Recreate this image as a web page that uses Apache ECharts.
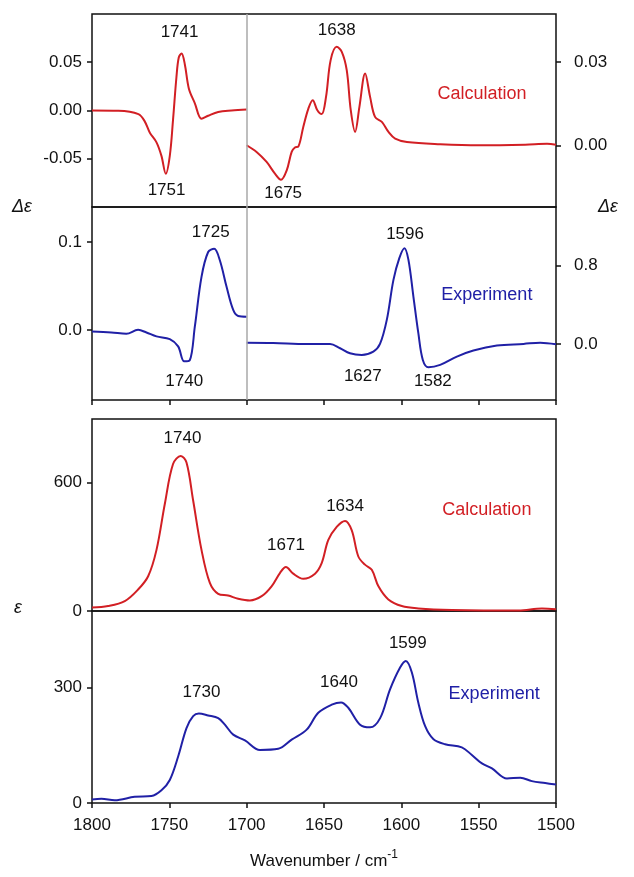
<!DOCTYPE html>
<html>
<head>
<meta charset="utf-8">
<script src="https://cdn.jsdelivr.net/npm/echarts@6/dist/echarts.min.js"></script>
<style>
  html, body { margin: 0; padding: 0; background: #fff; }
  #main { width: 634px; height: 877px; }
</style>
</head>
<body>
<div id="main"></div>
<script>
// VCD, calculation, 1800-1700 half (left axis)
const wnVcdCalcL = [1800, 1783, 1770, 1766, 1762.6, 1758.3, 1755.1, 1752.3, 1749.7, 1747.6, 1745.4, 1743.9, 1742.1, 1740, 1737.4, 1733.5, 1729.2, 1724.9, 1718.4, 1709.8, 1700]
const vcdCalcL = [0, -0.0003, -0.0037, -0.011, -0.023, -0.033, -0.047, -0.0656, -0.047, -0.0095, 0.0347, 0.055, 0.059, 0.048, 0.0229, 0.0075, -0.0085, -0.0054, -0.0015, 0, 0.001]
// VCD, calculation, 1700-1500 half (right axis)
const wnVcdCalcR = [1700, 1693.6, 1687.1, 1681.7, 1677.8, 1674.1, 1670.9, 1668.8, 1666.6, 1663.4, 1660.1, 1657.3, 1654.3, 1651.5, 1648.7, 1645.7, 1641.8, 1638.5, 1635.3, 1632.7, 1629.9, 1627.1, 1623.4, 1620.2, 1617, 1612.6, 1608.3, 1604, 1596.4, 1574.9, 1550, 1520, 1505.8, 1500]
const vcdCalcR = [0, -0.0024, -0.006, -0.0102, -0.0124, -0.009, -0.0024, -0.0008, -0.0005, 0.0066, 0.0132, 0.0162, 0.0126, 0.0112, 0.0174, 0.0306, 0.0354, 0.0336, 0.027, 0.0126, 0.0048, 0.0138, 0.0258, 0.0174, 0.0102, 0.0084, 0.0048, 0.0024, 0.0012, 0.0004, 0, 0.0002, 0.0005, 0.0002]
// VCD, experiment
const wnVcdExpL = [1800, 1787.5, 1777.8, 1770.2, 1764.8, 1758.3, 1749.7, 1744.3, 1740.4, 1736.8, 1733.5, 1729.2, 1724.9, 1721, 1717.3, 1713, 1708.7, 1705.5, 1700]
const vcdExpL = [-0.002, -0.003, -0.0045, 0, -0.003, -0.0075, -0.0106, -0.0189, -0.0359, -0.0347, 0.0038, 0.0604, 0.0887, 0.0925, 0.079, 0.049, 0.0226, 0.0158, 0.015]
const wnVcdExpR = [1700, 1682.8, 1661.2, 1646.1, 1639.6, 1633.2, 1625.6, 1618.1, 1613.8, 1609.4, 1605.1, 1601.3, 1598, 1595.4, 1592.2, 1589, 1586.1, 1582.5, 1574.9, 1564.1, 1553.4, 1538.2, 1521, 1510.2, 1500]
const vcdExpR = [0.013, 0.01, 0, 0, -0.044, -0.096, -0.113, -0.079, 0, 0.246, 0.656, 0.879, 0.98, 0.86, 0.485, 0.11, -0.164, -0.239, -0.215, -0.13, -0.068, -0.017, 0, 0.013, -0.003]
// IR, calculation
const wnIrCalc = [1800, 1789.6, 1778.8, 1770.2, 1763.7, 1758.3, 1752.9, 1747.6, 1742.6, 1738.9, 1734.6, 1729.2, 1723.8, 1718.4, 1712, 1705.5, 1697.9, 1690.3, 1683.9, 1678.5, 1674.6, 1669.9, 1663.4, 1655.8, 1651.5, 1647.2, 1641.8, 1636.4, 1632.1, 1627.8, 1623.5, 1619.1, 1614.8, 1608.4, 1599.7, 1589, 1567.3, 1524.2, 1509.1, 1500]
const irCalc = [16, 23, 46, 100, 162, 285, 500, 685, 723, 692, 515, 285, 131, 80, 72, 57, 49, 69, 115, 177, 205, 174, 150, 174, 223, 331, 392, 420, 377, 254, 216, 192, 115, 54, 23, 12, 5, 2, 12, 8]
// IR, experiment
const wnIrExp = [1800, 1793.9, 1785.3, 1772.4, 1761.6, 1755.1, 1749.7, 1744.3, 1738.9, 1734.6, 1730.9, 1724.9, 1718.4, 1714.1, 1708.7, 1701.1, 1691.4, 1679.6, 1670.9, 1661.2, 1653.7, 1645, 1639, 1634.3, 1626.7, 1620.2, 1613.7, 1607.3, 1600.8, 1597.1, 1593.2, 1589, 1584.6, 1579.2, 1571.7, 1560.9, 1554.4, 1547.9, 1541.4, 1531.7, 1523.1, 1515.6, 1507, 1500]
const irExp = [9, 11, 7, 16, 18, 33, 60, 121, 195, 226, 233, 228, 221, 204, 178, 163, 138, 141, 165, 191, 235, 256, 262, 248, 204, 197, 221, 296, 353, 370, 340, 261, 200, 166, 153, 145, 125, 103, 90, 64, 66, 57, 52, 48]

// tick labels
const xTicks = [1800, 1750, 1700, 1650, 1600, 1550, 1500]
const ticksVcdCalcL = [-0.05, 0, 0.05]
const ticksVcdCalcR = [0, 0.03]
const ticksVcdExpL = [0, 0.1]
const ticksVcdExpR = [0, 0.8]
const ticksIrCalc = [0, 600]
const ticksIrExp = [0, 300]

// peak annotations [wavenumber, value, text]
const notesVcdCalcL = [[1743.4, 0.081, '1741'], [1751.8, -0.083, '1751']]
const notesVcdCalcR = [[1641.8, 0.0414, '1638'], [1676.4, -0.0174, '1675']]
const notesVcdExpL = [[1723.2, 0.111, '1725'], [1740.4, -0.0585, '1740']]
const notesVcdExpR = [[1597.6, 1.125, '1596'], [1624.9, -0.328, '1627'], [1579.6, -0.387, '1582']]
const notesIrCalc = [[1741.5, 805, '1740'], [1674.6, 308, '1671'], [1636.4, 489, '1634']]
const notesIrExp = [[1729.2, 287, '1730'], [1640.3, 313, '1640'], [1595.8, 416, '1599']]
const tagCalcVcd = [[1547.9, 0.0183, 'Calculation']]
const tagExpVcd = [[1544.7, 0.503, 'Experiment']]
const tagCalcIr = [[1544.7, 469, 'Calculation']]
const tagExpIr = [[1540, 283, 'Experiment']]

const RED = '#d21f24'
const BLUE = '#2020a6'
const INK = '#111111'
const FONT = 'Liberation Sans, Arial, sans-serif'

const zip = (xs, ys) => xs.map((x, i) => [x, ys[i]])

const chart = echarts.init(document.getElementById('main'))

const gridBase = { left: 92, right: 78, show: true, borderColor: INK, borderWidth: 1.5, containLabel: false }

const xBase = (i) => ({
  type: 'value', gridIndex: i, position: 'bottom', min: 1500, max: 1800, interval: 50, inverse: true,
  axisLine: { show: false, onZero: false }, splitLine: { show: false },
  axisTick: { show: false }, axisLabel: { show: false }
})

const yAxisOf = (grid, pos, min, max, ticks, digits) => ({
  type: 'value', gridIndex: grid, position: pos, min: min, max: max,
  axisLine: { show: false, onZero: false }, splitLine: { show: false },
  axisTick: { show: true, length: 5, inside: false, customValues: ticks, lineStyle: { color: INK, width: 1.5 } },
  axisLabel: {
    customValues: ticks, margin: pos === 'left' ? 10 : 18,
    color: INK, fontSize: 17, fontFamily: FONT,
    formatter: v => digits === 0 ? String(Math.round(v)) : v.toFixed(digits)
  }
})

const curve = (xi, yi, xs, ys, color, extra) => Object.assign({
  type: 'line', xAxisIndex: xi, yAxisIndex: yi, data: zip(xs, ys),
  showSymbol: false, smooth: 0.35, lineStyle: { color: color, width: 2 },
  itemStyle: { color: color }, silent: true, z: 3
}, extra || {})

const notes = (xi, yi, items, color, size) => ({
  type: 'scatter', xAxisIndex: xi, yAxisIndex: yi, symbolSize: 0, silent: true, z: 5,
  itemStyle: { opacity: 1 },
  data: items.map(d => ({ value: [d[0], d[1]], name: d[2] })),
  label: {
    show: true, position: 'inside', formatter: p => p.name, opacity: 1,
    color: color, fontSize: size, fontFamily: FONT, textBorderWidth: 0
  }
})

const divider = {
  silent: true, symbol: 'none', label: { show: false },
  lineStyle: { color: '#a8a8a8', width: 1.5, type: 'solid' },
  data: [{ xAxis: 1700 }]
}

const option = {
  animation: false,
  backgroundColor: '#fff',
  grid: [
    Object.assign({ top: 14, height: 193 }, gridBase),
    Object.assign({ top: 207, height: 193 }, gridBase),
    Object.assign({ top: 419, height: 192 }, gridBase),
    Object.assign({ top: 611, height: 192 }, gridBase)
  ],
  xAxis: [
    xBase(0),
    Object.assign(xBase(1), {
      axisTick: { show: true, length: 5, lineStyle: { color: INK, width: 1.5 } }
    }),
    xBase(2),
    Object.assign(xBase(3), {
      axisTick: { show: true, length: 5, lineStyle: { color: INK, width: 1.5 } },
      axisLabel: { show: true, margin: 14, color: INK, fontSize: 17, fontFamily: FONT,
        formatter: v => String(v) },
      name: '{a|Wavenumber / cm}{b|-1}',
      nameLocation: 'middle', nameGap: 47,
      nameTextStyle: {
        rich: {
          a: { fontSize: 17, fontFamily: FONT, color: INK, lineHeight: 22 },
          b: { fontSize: 12, fontFamily: FONT, color: INK, lineHeight: 22, padding: [0, 0, 12, 0] }
        }
      }
    })
  ],
  yAxis: [
    yAxisOf(0, 'left', -0.1, 0.1, ticksVcdCalcL, 2),
    yAxisOf(0, 'right', -0.0222, 0.0472, ticksVcdCalcR, 2),
    yAxisOf(1, 'left', -0.08, 0.14, ticksVcdExpL, 1),
    yAxisOf(1, 'right', -0.574, 1.402, ticksVcdExpR, 1),
    yAxisOf(2, 'left', 0, 895, ticksIrCalc, 0),
    yAxisOf(3, 'left', 0, 500, ticksIrExp, 0)
  ],
  series: [
    curve(0, 0, wnVcdCalcL, vcdCalcL, RED, { markLine: divider }),
    curve(0, 1, wnVcdCalcR, vcdCalcR, RED),
    curve(1, 2, wnVcdExpL, vcdExpL, BLUE, { markLine: divider }),
    curve(1, 3, wnVcdExpR, vcdExpR, BLUE),
    curve(2, 4, wnIrCalc, irCalc, RED),
    curve(3, 5, wnIrExp, irExp, BLUE),
    notes(0, 0, notesVcdCalcL, INK, 17),
    notes(0, 1, notesVcdCalcR, INK, 17),
    notes(0, 1, tagCalcVcd, RED, 18),
    notes(1, 2, notesVcdExpL, INK, 17),
    notes(1, 3, notesVcdExpR, INK, 17),
    notes(1, 3, tagExpVcd, BLUE, 18),
    notes(2, 4, notesIrCalc, INK, 17),
    notes(2, 4, tagCalcIr, RED, 18),
    notes(3, 5, notesIrExp, INK, 17),
    notes(3, 5, tagExpIr, BLUE, 18)
  ],
  graphic: [
    { type: 'text', left: 12, top: 198, style: { text: 'Δε', fontSize: 18, fontStyle: 'italic', fontFamily: FONT, fill: INK } },
    { type: 'text', left: 598, top: 198, style: { text: 'Δε', fontSize: 18, fontStyle: 'italic', fontFamily: FONT, fill: INK } },
    { type: 'text', left: 14, top: 599, style: { text: 'ε', fontSize: 18, fontStyle: 'italic', fontFamily: FONT, fill: INK } }
  ]
}

chart.setOption(option)
</script>
</body>
</html>
